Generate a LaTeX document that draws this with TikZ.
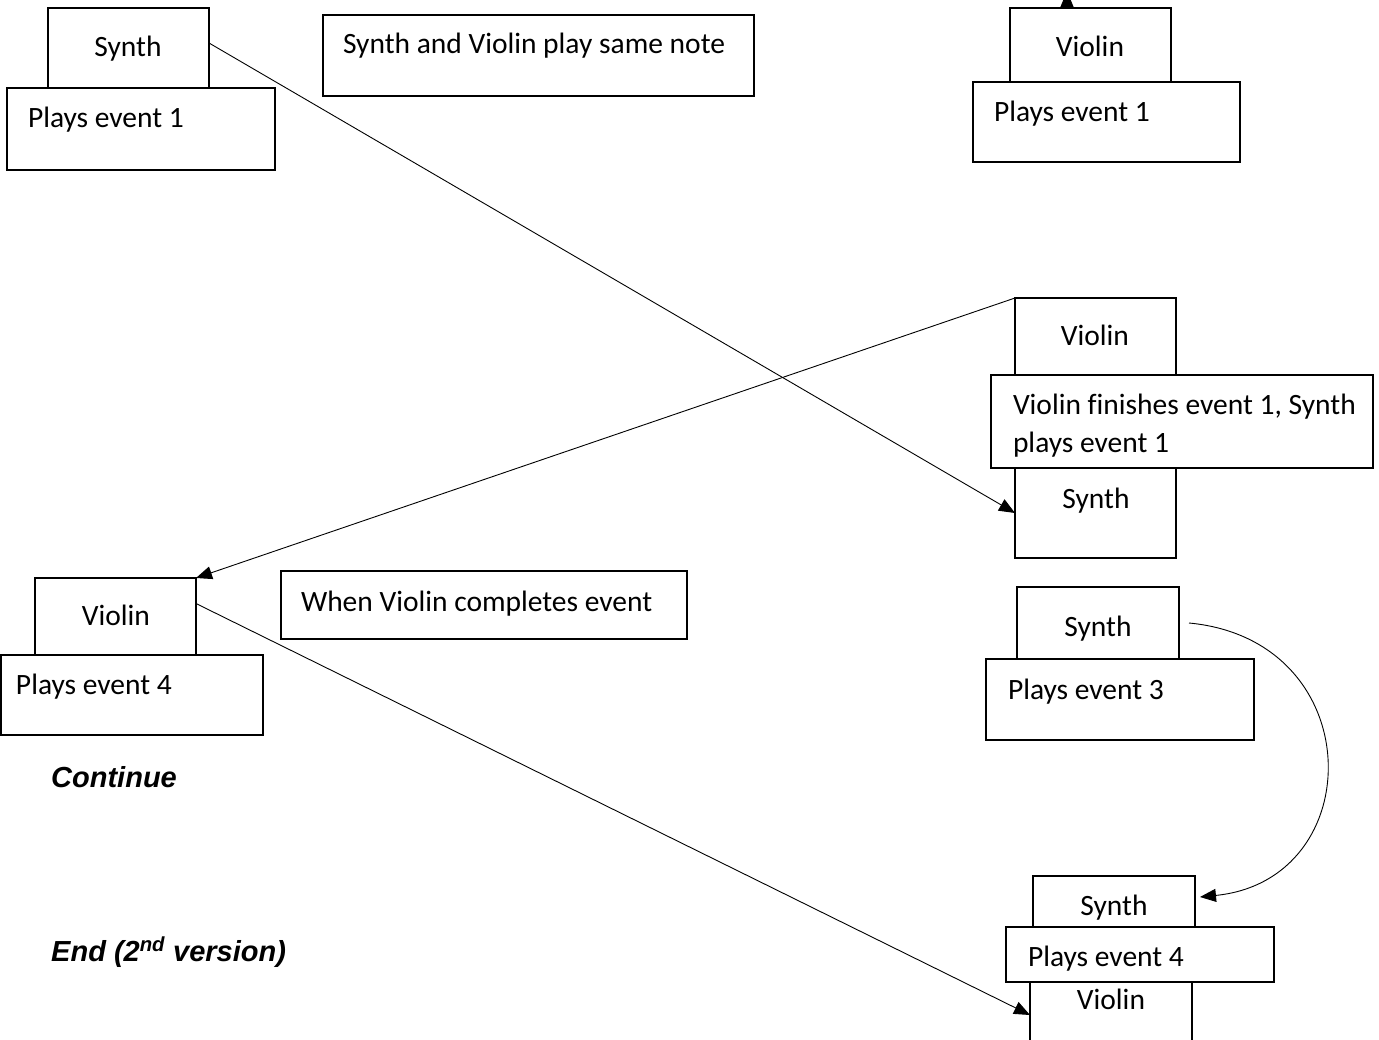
\documentclass[tikz,border=0pt]{standalone}
\usepackage{fontspec}
\setmainfont{Carlito}[Ligatures=NoCommon]
\newfontfamily\arialf{Liberation Sans}
\usetikzlibrary{arrows.meta}
\begin{document}
\begin{tikzpicture}[x=1pt,y=-1pt,
  sz/.style 2 args={minimum width=#1pt, minimum height=#2pt},
  boxthick/.style={draw, line width=1.8pt, fill=white, inner sep=0pt, outer sep=0pt, anchor=north west},
  boxthin/.style={draw, line width=1.3pt, fill=white, inner sep=0pt, outer sep=0pt, anchor=north west},
  lbl/.style={inner sep=0pt, outer sep=0pt, font=\fontsize{29.5}{39}\selectfont},
  lblc/.style={lbl, anchor=base},
  lblw/.style={lbl, anchor=base west},
  emphtxt/.style={inner sep=0pt, anchor=base west, font=\arialf\bfseries\itshape\fontsize{29}{35}\selectfont},
  conn/.style={line width=0.9pt, -{Triangle[length=16pt,width=13pt]}}]
\useasboundingbox (0,0) rectangle (1379,1040);
\clip (0,0) rectangle (1379,1040);
% upper boxes
\node[boxthick, sz={161}{80}] (synthA) at (48,8) {};
\node[boxthick, sz={161}{74}] (violinA) at (1010,8) {};
\node[boxthick, sz={161}{77}] (violinB) at (1015,298) {};
\node[boxthick, sz={161}{90}] (synthB) at (1015,468) {};
\node[boxthick, sz={161}{77}] (violinC) at (35,578) {};
\node[boxthick, sz={162}{72}] (synthC) at (1017,587) {};
\node[boxthick, sz={162}{51}] (synthD) at (1033,876) {};
\node[boxthick, sz={162}{66}] (violinD) at (1030,982) {};
% lower / overlapping boxes
\node[boxthick, sz={268}{82}] (playsA) at (7,88) {};
\node[boxthin, sz={431}{81}] (noteA) at (323,15) {};
\node[boxthick, sz={267}{80}] (playsB) at (973,82) {};
\node[boxthin, sz={382}{93}] (finB) at (991,375) {};
\node[boxthick, sz={262}{80}] (playsC) at (1,655) {};
\node[boxthin, sz={406}{68}] (whenC) at (281,571) {};
\node[boxthick, sz={268}{81}] (playsD) at (986,659) {};
\node[boxthin, sz={268}{55}] (playsE) at (1006,927) {};
% texts
\node[lblc] (tSynthA) at (128,57) {Synth};
\node[lblw] (tPlaysA) at (28,128) {Plays event 1};
\node[lblw] (tNote) at (343,54) {Synth and Violin play same note};
\node[lblc] (tViolinA) at (1090,57) {Violin};
\node[lblw] (tPlaysB) at (994,122) {Plays event 1};
\node[lblc] (tViolinB) at (1095,346) {Violin};
\node[lblw] (tFin1) at (1013,414) {Violin finishes event 1, Synth};
\node[lblw] (tFin2) at (1013,453) {plays event 1};
\node[lblc] (tSynthB) at (1096,508) {Synth};
\node[lblc] (tViolinC) at (116,625) {Violin};
\node[lblw] (tPlaysC) at (16,694) {Plays event 4};
\node[lblw] (tWhen) at (301,611) {When Violin completes event};
\node[lblc] (tSynthC) at (1098,636) {Synth};
\node[lblw] (tPlaysD) at (1008,699) {Plays event 3};
\node[lblc] (tSynthD) at (1114,915) {Synth};
\node[lblw] (tPlaysE) at (1028,966) {Plays event 4};
\node[lblc] (tViolinD) at (1111,1009) {Violin};
\node[emphtxt] (tContinue) at (51,787) {Continue};
\node[emphtxt] (tEnd) at (51,961) {End (2\textsuperscript{nd} version)};
% connectors
\coordinate (topend) at (1067,-9);
\draw[conn] ([xshift=-23.5pt]violinA.north) -- (topend);
\draw[conn] ([yshift=5pt]synthA.east) -- (synthB.west);
\draw[conn] (violinB.north west) -- (violinC.north east);
\draw[conn] ([yshift=13pt]violinC.east) -- (violinD.west);
\draw[conn] ([xshift=10pt]synthC.east) .. controls +(181,17) and +(170,-17) .. ([xshift=5pt,yshift=4.5pt]synthD.east);
\end{tikzpicture}
\end{document}
